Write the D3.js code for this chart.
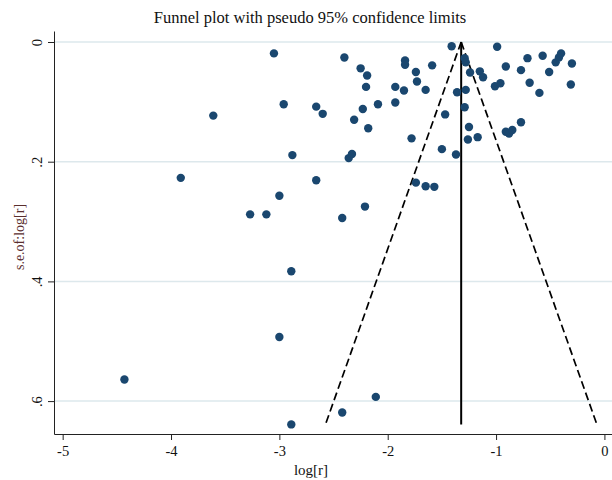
<!DOCTYPE html>
<html>
<head>
<meta charset="utf-8">
<script src="https://cdn.jsdelivr.net/npm/d3@7"></script>
<style>
  body { margin: 0; background: #fff; }
  text { font-family: "Liberation Serif", "Times New Roman", serif; }
</style>
</head>
<body>
<div class="chart"></div>
<script>
// DATA ------------------------------------
// log[r] estimate and its standard error for each study
const logR = [-3.05, -3.61, -2.96, -2.66, -2.60, -2.88, -2.40, -2.25, -2.19, -2.20,
  -2.23, -2.31, -2.18, -2.09, -1.93, -1.93, -1.85, -1.84, -1.84, -1.74,
  -1.73, -1.65, -1.59, -1.78, -1.47, -1.50, -1.37, -1.41, -1.36, -1.29,
  -1.28, -1.24, -1.28, -1.29, -1.25, -1.26, -2.36, -2.33, -0.99, -1.15,
  -1.12, -1.17, -1.01, -0.96, -0.91, -0.77, -0.71, -0.69, -0.60, -0.57,
  -0.51, -0.45, -0.42, -0.40, -0.30, -0.31, -0.91, -0.88, -0.85, -0.77,
  -3.91, -2.66, -3.00, -3.27, -3.12, -2.42, -2.89, -3.00, -4.43, -2.42,
  -2.89, -2.11, -2.21, -1.74, -1.65, -1.57];
const seLogR = [0.019, 0.123, 0.104, 0.108, 0.120, 0.189, 0.026, 0.044, 0.056, 0.075,
  0.112, 0.130, 0.144, 0.104, 0.101, 0.075, 0.081, 0.031, 0.038, 0.050,
  0.066, 0.080, 0.039, 0.161, 0.121, 0.179, 0.188, 0.007, 0.084, 0.027,
  0.034, 0.051, 0.080, 0.109, 0.142, 0.163, 0.194, 0.187, 0.008, 0.049,
  0.059, 0.159, 0.074, 0.069, 0.041, 0.047, 0.027, 0.068, 0.085, 0.023,
  0.050, 0.034, 0.026, 0.019, 0.036, 0.071, 0.150, 0.153, 0.147, 0.134,
  0.227, 0.231, 0.257, 0.288, 0.288, 0.294, 0.383, 0.493, 0.564, 0.619,
  0.639, 0.593, 0.275, 0.235, 0.241, 0.242];
const pooled = -1.322;   // vertical line (fixed effect estimate)
const xTicks = [-5, -4, -3, -2, -1, 0];
const yTicks = [0, 0.2, 0.4, 0.6];

// CHART INIT ------------------------------
const W = 612, H = 480;
const svg = d3.select(".chart")
  .append("svg")
  .attr("width", W)
  .attr("height", H);

const xScale = d3.scaleLinear().domain([-5.08, 0.07]).range([54, 612]);
const yScale = d3.scaleLinear().domain([-0.0184, 0.655]).range([31, 434]);  // se grows downward

// gridlines
svg.append("g")
  .selectAll("line")
  .data(yTicks)
  .join("line")
  .attr("x1", 54).attr("x2", 612)
  .attr("y1", d => yScale(d)).attr("y2", d => yScale(d))
  .attr("stroke", "#dde8ec")
  .attr("stroke-width", 1.5);

// axes
const xAxis = d3.axisBottom(xScale).tickValues(xTicks).tickSize(6).tickSizeOuter(0)
  .tickFormat(d => d3.format("d")(d).replace("−", "-"));
const yAxis = d3.axisLeft(yScale).tickValues(yTicks).tickSize(6).tickSizeOuter(0)
  .tickFormat(d => d === 0 ? "0" : d3.format(".1f")(d).replace(/^0/, ""));

const gx = svg.append("g")
  .attr("class", "axis x-axis")
  .attr("transform", "translate(0,434)")
  .call(xAxis);
gx.select(".domain").attr("stroke", "#222");
gx.selectAll(".tick line").attr("stroke", "#222");
gx.selectAll(".tick text")
  .attr("font-size", 14.5)
  .attr("font-family", "Liberation Serif")
  .attr("fill", "#111")
  .attr("dy", "0.9em");

const gy = svg.append("g")
  .attr("class", "axis y-axis")
  .attr("transform", "translate(54,0)")
  .call(yAxis);
gy.select(".domain").attr("stroke", "#222");
gy.selectAll(".tick line").attr("stroke", "#222");
gy.selectAll(".tick text")
  .attr("font-size", 14.5)
  .attr("font-family", "Liberation Serif")
  .attr("fill", "#111")
  .attr("x", null).attr("dy", null)
  .attr("text-anchor", "middle")
  .attr("transform", "translate(-12,0) rotate(-90)");

// funnel lines
const seMax = d3.max(seLogR);
svg.append("line")
  .attr("x1", xScale(pooled)).attr("x2", xScale(pooled))
  .attr("y1", yScale(0)).attr("y2", yScale(seMax))
  .attr("stroke", "#000").attr("stroke-width", 2);

[-1.96, 1.96].forEach(z => {
  svg.append("line")
    .attr("x1", xScale(pooled)).attr("y1", yScale(0))
    .attr("x2", xScale(pooled + z * seMax)).attr("y2", yScale(seMax))
    .attr("stroke", "#000")
    .attr("stroke-width", 1.7)
    .attr("stroke-dasharray", "8,4");
});

// study points
svg.append("g")
  .selectAll("circle")
  .data(logR.map((v, i) => ({x: v, se: seLogR[i]})))
  .join("circle")
  .attr("cx", d => xScale(d.x))
  .attr("cy", d => yScale(d.se))
  .attr("r", 4.2)
  .attr("fill", "#1a476f");

// titles
svg.append("text")
  .attr("x", 310).attr("y", 23)
  .attr("text-anchor", "middle")
  .attr("font-size", 16.5)
  .attr("fill", "#111")
  .text("Funnel plot with pseudo 95% confidence limits");

svg.append("text")
  .attr("x", 311).attr("y", 475)
  .attr("text-anchor", "middle")
  .attr("font-size", 15)
  .attr("fill", "#111")
  .text("log[r]");

svg.append("text")
  .attr("transform", "translate(24,237) rotate(-90)")
  .attr("text-anchor", "middle")
  .attr("font-size", 14)
  .attr("fill", "#5a2e2e")
  .text("s.e.of:log[r]");
</script>
</body>
</html>
